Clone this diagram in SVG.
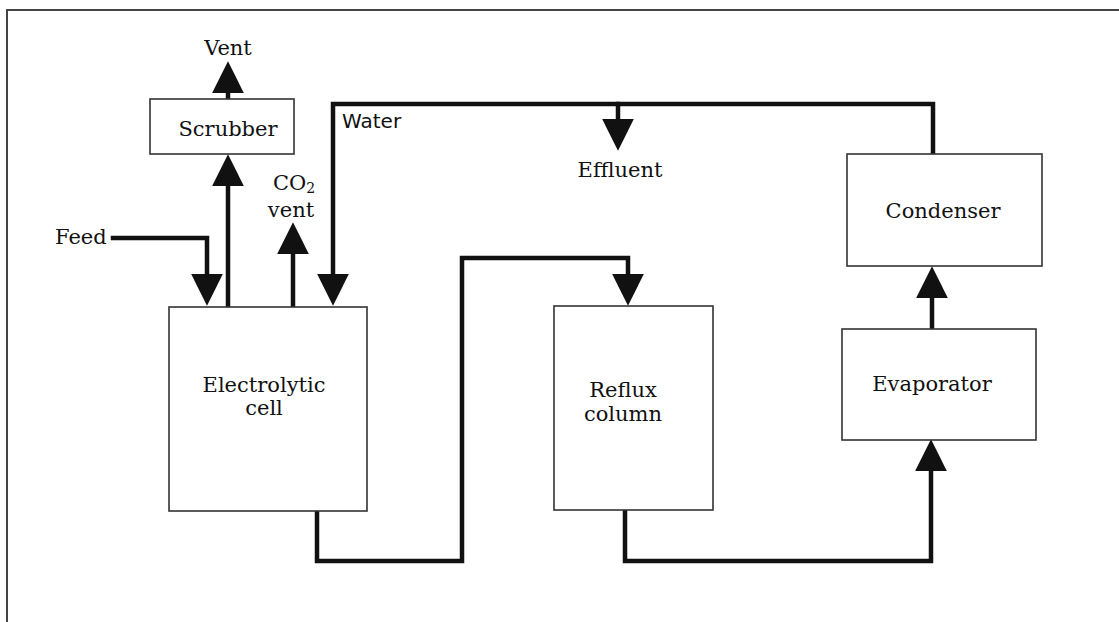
<svg xmlns="http://www.w3.org/2000/svg" width="1119" height="622" viewBox="0 0 1119 622">
<style>
.box{fill:#fff;stroke:#333;stroke-width:1.6}
.pipe{fill:none;stroke:#111;stroke-width:4.5;stroke-linejoin:miter;stroke-linecap:square}
.lbl{font-family:"DejaVu Serif","Liberation Serif",serif;font-size:21px;fill:#111}
.c{text-anchor:middle}
.sans{font-family:"DejaVu Sans","Liberation Sans",sans-serif;font-size:20px;fill:#111}
.frame{fill:none;stroke:#444;stroke-width:2}
</style>
<defs>
<marker id="ah" markerUnits="userSpaceOnUse" markerWidth="32" markerHeight="32" viewBox="0 0 30 30" refX="20" refY="15" orient="auto">
<path d="M0,0 L30,15 L0,30 Z" fill="#111"/>
</marker>
</defs>
<rect width="1119" height="622" fill="#fff"/>
<path class="frame" d="M7,622 V10 H1119"/>

<g id="connectors">
<path class="pipe" d="M228,99 V72" marker-end="url(#ah)"/>
<path class="pipe" d="M228,307 V165" marker-end="url(#ah)"/>
<path class="pipe" d="M113,238 H207 V295" marker-end="url(#ah)"/>
<path class="pipe" d="M293,307 V233" marker-end="url(#ah)"/>
<path class="pipe" d="M933,154 V104 H333 V295" marker-end="url(#ah)"/>
<path class="pipe" d="M618,104 V140" marker-end="url(#ah)"/>
<path class="pipe" d="M317,511 V561 H462 V258 H628 V295" marker-end="url(#ah)"/>
<path class="pipe" d="M625,510 V561 H931 V450" marker-end="url(#ah)"/>
<path class="pipe" d="M932,329 V277" marker-end="url(#ah)"/>
</g>

<g id="scrubber">
<rect class="box" x="150" y="99" width="144" height="55"/>
<text class="lbl c" x="228" y="136">Scrubber</text>
</g>
<g id="cell">
<rect class="box" x="169" y="307" width="198" height="204"/>
<text class="lbl c" x="264" y="392">Electrolytic</text>
<text class="lbl c" x="264" y="415">cell</text>
</g>
<g id="reflux">
<rect class="box" x="554" y="306" width="159" height="204"/>
<text class="lbl c" x="623" y="397">Reflux</text>
<text class="lbl c" x="623" y="421">column</text>
</g>
<g id="evaporator">
<rect class="box" x="842" y="329" width="194" height="111"/>
<text class="lbl c" x="932" y="391">Evaporator</text>
</g>
<g id="condenser">
<rect class="box" x="847" y="154" width="195" height="112"/>
<text class="lbl c" x="943" y="218">Condenser</text>
</g>

<g id="labels">
<text class="lbl c" x="228" y="55">Vent</text>
<text class="lbl" x="55" y="244">Feed</text>
<text class="lbl" x="273" y="190">CO<tspan font-size="14" dy="3">2</tspan></text>
<text class="lbl c" x="291" y="217">vent</text>
<text class="sans" x="342" y="128">Water</text>
<text class="lbl c" x="620" y="177">Effluent</text>
</g>
</svg>
